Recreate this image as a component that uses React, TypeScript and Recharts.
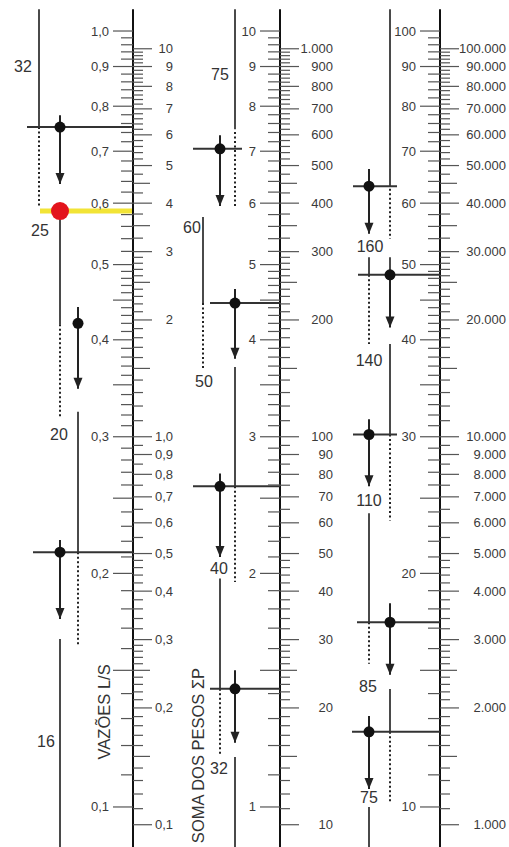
import { ComposedChart, XAxis, YAxis, Scatter, ReferenceLine } from 'recharts'

// escala da esquerda: vazões (L/s), em unidades da 1a coluna
const vazoes = [1.0, 0.9, 0.8, 0.7, 0.6, 0.5, 0.4, 0.3, 0.2, 0.1]
const vazoesRotulos1 = ['1,0', '0,9', '0,8', '0,7', '0,6', '0,5', '0,4', '0,3', '0,2', '0,1']
const vazoesRotulos2 = ['10', '9', '8', '7', '6', '5', '4', '3', '2', '1']
const vazoesRotulos3 = ['100', '90', '80', '70', '60', '50', '40', '30', '20', '10']
const vazoesMedias = [0.15, 0.25, 0.35, 0.45]
const vazoesDivisoes = [[0.1, 0.5, 0.01], [0.5, 1.0, 0.02]]

// escala da direita: soma dos pesos (Q = 0,3 * raiz de P)
const pesos = [10, 9, 8, 7, 6, 5, 4, 3, 2, 1, 0.9, 0.8, 0.7, 0.6, 0.5, 0.4, 0.3, 0.2, 0.1]
const pesosRotulos1 = ['10', '9', '8', '7', '6', '5', '4', '3', '2', '1,0', '0,9', '0,8', '0,7', '0,6', '0,5', '0,4', '0,3', '0,2', '0,1']
const pesosRotulos2 = ['1.000', '900', '800', '700', '600', '500', '400', '300', '200', '100', '90', '80', '70', '60', '50', '40', '30', '20', '10']
const pesosRotulos3 = ['100.000', '90.000', '80.000', '70.000', '60.000', '50.000', '40.000', '30.000', '20.000', '10.000', '9.000', '8.000', '7.000', '6.000', '5.000', '4.000', '3.000', '2.000', '1.000']
const pesosMedios = [0.15, 0.25, 1.5, 2.5, 3.5, 4.5]
const pesosDivisoes = [[0.1, 0.3, 0.01], [0.3, 0.5, 0.02], [0.5, 1, 0.05], [1, 3, 0.1], [3, 5, 0.25], [5, 10, 0.2]]

// diâmetros (mm) e vazões onde o diâmetro muda
const diametros1 = ['32', '25', '20', '16']
const diametros2 = ['75', '60', '50', '40', '32']
const diametros3 = ['160', '140', '110', '85', '75']
const trocas1 = [0.752, 0.586, 0.42, 0.213]
const trocas2 = [7.05, 4.46, 2.59, 1.42]
const trocas3 = [63.1, 48.5, 30.2, 17.3, 12.5]

const W = 509
const H = 847
const TOPO = 1.0964
const BASE = 0.0888
const FONTE = "'Liberation Sans', Arial, Helvetica, sans-serif"

const qDePeso = (p: number) => 0.3 * Math.sqrt(p)

function passos(divs: number[][]) {
    const out: number[] = []
    for (const [a, b, s] of divs) {
        const n = Math.round((b - a) / s)
        for (let i = 0; i <= n; i++) out.push(+(a + i * s).toFixed(4))
    }
    return out
}

type Traco = { tipo: 'cheia' | 'pontos' | 'seta'; x: number; de: number; ate: number }
type Horiz = { y: number; x1: number; x2: number }
type Ponto = { x: number; y: number }
type Rotulo = { x: number; y: number; texto: string; vertical?: boolean }

interface Coluna {
    eixo: number
    fator: number
    rotVazao: string[]
    rotPeso: string[]
    fimPeso: number
    tracos: Traco[]
    horiz: Horiz[]
    pontos: Ponto[]
    rotulos: Rotulo[]
}

const A = 39, B = 60, C = 78
const D = 203, E = 220, F = 235
const G = 369, K = 390

const colunas: Coluna[] = [
    {
        eixo: 133, fator: 1, rotVazao: vazoesRotulos1, rotPeso: pesosRotulos1, fimPeso: 40,
        tracos: [
            { tipo: 'cheia', x: A, de: 1.067, ate: trocas1[0] },
            { tipo: 'pontos', x: A, de: trocas1[0], ate: 0.595 },
            { tipo: 'seta', x: B, de: 0.779, ate: 0.635 },
            { tipo: 'cheia', x: B, de: trocas1[1], ate: 0.419 },
            { tipo: 'pontos', x: B, de: 0.419, ate: 0.318 },
            { tipo: 'seta', x: C, de: 0.441, ate: 0.346 },
            { tipo: 'cheia', x: C, de: 0.323, ate: trocas1[3] },
            { tipo: 'pontos', x: C, de: trocas1[3], ate: 0.1617 },
            { tipo: 'seta', x: B, de: 0.2208, ate: 0.1747 },
            { tipo: 'cheia', x: B, de: 0.1646, ate: BASE },
        ],
        horiz: [
            { y: trocas1[0], x1: 27, x2: 133 },
            { y: trocas1[3], x1: 33, x2: 133 },
        ],
        pontos: [
            { x: B, y: trocas1[0] },
            { x: C, y: trocas1[2] },
            { x: B, y: trocas1[3] },
        ],
        rotulos: [
            { x: 23, y: 0.899, texto: diametros1[0] },
            { x: 40, y: 0.5525, texto: diametros1[1] },
            { x: 59, y: 0.3024, texto: diametros1[2] },
            { x: 46, y: 0.1213, texto: diametros1[3] },
            { x: 104, y: 0.1326, texto: 'VAZÕES L/S', vertical: true },
        ],
    },
    {
        eixo: 280, fator: 10, rotVazao: vazoesRotulos2, rotPeso: pesosRotulos2, fimPeso: 53,
        tracos: [
            { tipo: 'cheia', x: F, de: 10.67, ate: 7.47 },
            { tipo: 'pontos', x: F, de: 7.41, ate: 5.94 },
            { tipo: 'seta', x: E, de: 7.34, ate: 5.95 },
            { tipo: 'cheia', x: D, de: 5.76, ate: trocas2[1] },
            { tipo: 'pontos', x: D, de: trocas2[1], ate: 3.67 },
            { tipo: 'seta', x: F, de: 4.65, ate: 3.78 },
            { tipo: 'cheia', x: F, de: 3.69, ate: trocas2[2] },
            { tipo: 'pontos', x: F, de: trocas2[2], ate: 1.95 },
            { tipo: 'seta', x: E, de: 2.69, ate: 2.1 },
            { tipo: 'cheia', x: E, de: 1.97, ate: trocas2[3] },
            { tipo: 'pontos', x: E, de: trocas2[3], ate: 1.17 },
            { tipo: 'seta', x: F, de: 1.5, ate: 1.21 },
            { tipo: 'cheia', x: F, de: 1.16, ate: BASE * 10 },
        ],
        horiz: [
            { y: trocas2[0], x1: 193, x2: 242 },
            { y: trocas2[1], x1: 210, x2: 280 },
            { y: trocas2[2], x1: 193, x2: 280 },
            { y: trocas2[3], x1: 210, x2: 280 },
        ],
        pontos: [
            { x: E, y: trocas2[0] },
            { x: F, y: trocas2[1] },
            { x: E, y: trocas2[2] },
            { x: F, y: trocas2[3] },
        ],
        rotulos: [
            { x: 220, y: 8.8, texto: diametros2[0] },
            { x: 192, y: 5.59, texto: diametros2[1] },
            { x: 204, y: 3.53, texto: diametros2[2] },
            { x: 219, y: 2.03, texto: diametros2[3] },
            { x: 219, y: 1.12, texto: diametros2[4] },
            { x: 198, y: 1.165, texto: 'SOMA DOS PESOS  ΣP', vertical: true },
        ],
    },
    {
        eixo: 440, fator: 100, rotVazao: vazoesRotulos3, rotPeso: pesosRotulos3, fimPeso: 66,
        tracos: [
            { tipo: 'cheia', x: K, de: 106.7, ate: trocas3[0] },
            { tipo: 'pontos', x: K, de: 62.6, ate: 54.0 },
            { tipo: 'seta', x: G, de: 66.4, ate: 54.8 },
            { tipo: 'cheia', x: G, de: 51.1, ate: trocas3[1] },
            { tipo: 'cheia', x: K, de: 51.1, ate: trocas3[1] },
            { tipo: 'seta', x: K, de: trocas3[1], ate: 41.5 },
            { tipo: 'pontos', x: G, de: trocas3[1], ate: 39.5 },
            { tipo: 'cheia', x: K, de: 39.5, ate: trocas3[2] },
            { tipo: 'pontos', x: K, de: trocas3[2], ate: 23.4 },
            { tipo: 'seta', x: G, de: 31.6, ate: 25.9 },
            { tipo: 'cheia', x: G, de: 23.9, ate: trocas3[3] },
            { tipo: 'pontos', x: G, de: trocas3[3], ate: 15.3 },
            { tipo: 'seta', x: K, de: 18.3, ate: 14.8 },
            { tipo: 'cheia', x: K, de: 14.19, ate: trocas3[4] },
            { tipo: 'pontos', x: K, de: trocas3[4], ate: 10.1 },
            { tipo: 'seta', x: G, de: 13.1, ate: 10.55 },
            { tipo: 'cheia', x: G, de: 10.0, ate: BASE * 100 },
        ],
        horiz: [
            { y: trocas3[0], x1: 353, x2: 397 },
            { y: trocas3[1], x1: 358, x2: 440 },
            { y: trocas3[2], x1: 353, x2: 397 },
            { y: trocas3[3], x1: 357, x2: 440 },
            { y: trocas3[4], x1: 352, x2: 440 },
        ],
        pontos: [
            { x: G, y: trocas3[0] },
            { x: K, y: trocas3[1] },
            { x: G, y: trocas3[2] },
            { x: K, y: trocas3[3] },
            { x: G, y: trocas3[4] },
        ],
        rotulos: [
            { x: 370, y: 52.7, texto: diametros3[0] },
            { x: 369, y: 37.6, texto: diametros3[1] },
            { x: 369, y: 24.8, texto: diametros3[2] },
            { x: 368, y: 14.3, texto: diametros3[3] },
            { x: 369, y: 10.3, texto: diametros3[4] },
        ],
    },
]

// monta as marcas das escalas
const chave = (v: number) => v.toFixed(4)
const marcas: any[] = []
colunas.forEach((col) => {
    const usadosV = new Set([...vazoes, ...vazoesMedias].map(chave))
    vazoes.forEach((v, i) => marcas.push({ x: col.eixo, y: v, lado: 'E', comp: 20, rotulo: col.rotVazao[i] }))
    vazoesMedias.forEach((v) => marcas.push({ x: col.eixo, y: v, lado: 'E', comp: 20 }))
    passos(vazoesDivisoes).forEach((v) => {
        if (usadosV.has(chave(v))) return
        usadosV.add(chave(v))
        marcas.push({ x: col.eixo, y: v, lado: 'E', comp: 12 })
    })
    const usadosP = new Set([...pesos, ...pesosMedios].map(chave))
    pesos.forEach((p, i) => marcas.push({ x: col.eixo, y: qDePeso(p), lado: 'D', comp: 19, rotulo: col.rotPeso[i], fim: col.fimPeso }))
    pesosMedios.forEach((p) => marcas.push({ x: col.eixo, y: qDePeso(p), lado: 'D', comp: 17 }))
    passos(pesosDivisoes).forEach((p) => {
        if (usadosP.has(chave(p))) return
        usadosP.add(chave(p))
        marcas.push({ x: col.eixo, y: qDePeso(p), lado: 'D', comp: 10 })
    })
})

const tracos = colunas.flatMap((c) => c.tracos.map((t) => ({ ...t, de: t.de / c.fator, ate: t.ate / c.fator })))
const horizontais = colunas.flatMap((c) => c.horiz.map((h) => ({ ...h, y: h.y / c.fator })))
const pontos = colunas.flatMap((c) => c.pontos.map((p) => ({ ...p, y: p.y / c.fator })))
const rotulos = colunas.flatMap((c) => c.rotulos.map((r) => ({ ...r, y: r.y / c.fator })))
const pontasSeta = tracos.filter((t) => t.tipo === 'seta').map((t) => ({ x: t.x, y: t.ate }))

function Marca(props: any) {
    const { cx, cy, payload } = props
    const esq = payload.lado === 'E'
    return (
        <g>
            <line x1={cx} y1={cy} x2={esq ? cx - payload.comp : cx + payload.comp} y2={cy} stroke="#555" strokeWidth={1.2} />
            {payload.rotulo && (
                <text x={esq ? cx - 24 : cx + payload.fim} y={cy} textAnchor="end" dominantBaseline="central"
                    fontSize={13} fontFamily={FONTE} fill="#3a3a3a">
                    {payload.rotulo}
                </text>
            )}
        </g>
    )
}

function PontaSeta(props: any) {
    const { cx, cy } = props
    return <polygon points={`${cx - 4.5},${cy - 11} ${cx + 4.5},${cy - 11} ${cx},${cy}`} fill="#222" />
}

function Bola(props: any) {
    return <circle cx={props.cx} cy={props.cy} r={5.5} fill="#111" />
}

function BolaVermelha(props: any) {
    return <circle cx={props.cx} cy={props.cy} r={9} fill="#e3141c" />
}

function Texto(props: any) {
    const { cx, cy, payload } = props
    if (payload.vertical) {
        return (
            <text x={cx} y={cy} transform={`rotate(-90 ${cx} ${cy})`} textAnchor="middle" dominantBaseline="central"
                fontSize={16.5} fontFamily={FONTE} fill="#333">
                {payload.texto}
            </text>
        )
    }
    return (
        <text x={cx} y={cy} textAnchor="middle" dominantBaseline="central" fontSize={16} fontFamily={FONTE} fill="#333">
            {payload.texto}
        </text>
    )
}

export default function App() {
    return (
        <div style={{ position: 'absolute', left: 0, top: 0, width: W, height: H, background: '#fff' }}>
            <ComposedChart width={W} height={H} margin={{ top: 0, right: 0, bottom: 0, left: 0 }}>
                <XAxis type="number" dataKey="x" domain={[0, W]} hide allowDataOverflow />
                <YAxis type="number" dataKey="y" scale="log" domain={[BASE, TOPO]} hide allowDataOverflow />

                {/* linha amarela do exemplo */}
                <ReferenceLine segment={[{ x: 40, y: trocas1[1] }, { x: 133, y: trocas1[1] }]}
                    stroke="#f2e436" strokeWidth={5} ifOverflow="visible" />

                {colunas.map((c) => (
                    <ReferenceLine key={`eixo-${c.eixo}`} segment={[{ x: c.eixo, y: 1.067 }, { x: c.eixo, y: BASE }]}
                        stroke="#111" strokeWidth={2} ifOverflow="visible" />
                ))}

                {tracos.map((t, i) => (
                    <ReferenceLine key={`t-${i}`} segment={[{ x: t.x, y: t.de }, { x: t.x, y: t.ate }]}
                        stroke={t.tipo === 'cheia' ? '#4a4a4a' : '#222'} strokeWidth={2}
                        strokeDasharray={t.tipo === 'pontos' ? '2 2.5' : undefined} ifOverflow="visible" />
                ))}

                {horizontais.map((h, i) => (
                    <ReferenceLine key={`h-${i}`} segment={[{ x: h.x1, y: h.y }, { x: h.x2, y: h.y }]}
                        stroke="#333" strokeWidth={2} ifOverflow="visible" />
                ))}

                <Scatter data={marcas} shape={Marca} isAnimationActive={false} />
                <Scatter data={pontasSeta} shape={PontaSeta} isAnimationActive={false} />
                <Scatter data={pontos} shape={Bola} isAnimationActive={false} />
                <Scatter data={[{ x: B, y: trocas1[1] }]} shape={BolaVermelha} isAnimationActive={false} />
                <Scatter data={rotulos} shape={Texto} isAnimationActive={false} />
            </ComposedChart>
        </div>
    )
}
